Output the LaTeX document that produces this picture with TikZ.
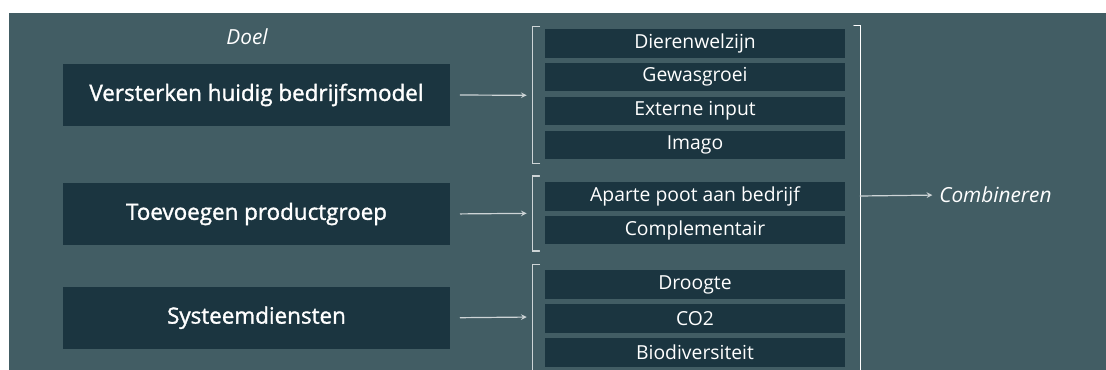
\documentclass[tikz,border=0pt]{standalone}
\usepackage{fontspec}
\setmainfont{Open Sans}
\newfontfamily\headfont{Open Sans}[FakeBold=1.4]
\usetikzlibrary{positioning}
\definecolor{bgteal}{HTML}{425D64}
\definecolor{boxteal}{HTML}{1B3540}
\definecolor{lineg}{HTML}{CDD4D6}
\tikzset{
  goalbox/.style={fill=boxteal,text=white,inner sep=0pt,minimum width=290.25pt,minimum height=46.5pt,font=\headfont\fontsize{16.8}{20}\selectfont},
  itembox/.style={fill=boxteal,text=white,inner sep=0pt,minimum width=225pt,minimum height=21.5pt},
  labeltext/.style={text=white,inner sep=0pt,font=\itshape\fontsize{15.6}{18}\selectfont},
  bracket/.style={draw=lineg,line width=0.9pt},
  link/.style={draw=lineg,line width=0.9pt,->,shorten <=7.5pt,shorten >=4.5pt},
}
\begin{document}
\begin{tikzpicture}[x=0.75pt,y=-0.75pt,>=stealth,line cap=round,font=\fontsize{14.5}{17}\selectfont,node distance=3.5pt]
  \useasboundingbox (0,0) rectangle (1106,370);
  \fill[white] (0,0) rectangle (1106,370);
  \fill[bgteal] (8.7,13) rectangle (1106,370);
  \node[labeltext] (doel) at (247,37) {Doel};
  % doelen
  \node[goalbox] (versterken) at (256.5,95) {Versterken huidig bedrijfsmodel};
  \node[goalbox] (toevoegen) at (256.5,214) {Toevoegen productgroep};
  \node[goalbox] (systeem) at (256.5,317.8) {Systeemdiensten};
  % onderdelen
  \node[itembox] (dieren) at (695,43.3) {Dierenwelzijn};
  \node[itembox,below=of dieren] (gewas) {Gewasgroei};
  \node[itembox,below=of gewas] (extern) {Externe input};
  \node[itembox,below=of extern] (imago) {Imago};
  \node[itembox] (poot) at (695,196.3) {Aparte poot aan bedrijf};
  \node[itembox,below=of poot] (compl) {Complementair};
  \node[itembox] (droogte) at (695,284.5) {Droogte};
  \node[itembox,below=of droogte] (co) {CO2};
  \node[itembox,below=of co] (bio) {Biodiversiteit};
  % haken
  \draw[bracket] (539.5,26.7) -| (532.7,163.7) -- (539.5,163.7);
  \draw[bracket] (539.5,176) -| (532.7,251) -- (539.5,251);
  \draw[bracket] (539.5,264.7) -| (532.7,375);
  \draw[bracket,draw=white] (854,25.3) -| (860.3,375);
  \coordinate (k1) at (532.7,95.3);
  \coordinate (k2) at (532.7,213.3);
  \coordinate (k3) at (532.7,317);
  \coordinate (kc) at (860.3,196);
  \node[labeltext,anchor=west] (comb) at (939,195) {Combineren};
  % pijlen
  \draw[link] (versterken.east) -- (k1);
  \draw[link] (toevoegen.east) -- (k2);
  \draw[link] (systeem.east) -- (k3);
  \draw[link,shorten <=0pt,shorten >=5pt] (kc) -- (comb.west);
\end{tikzpicture}
\end{document}
